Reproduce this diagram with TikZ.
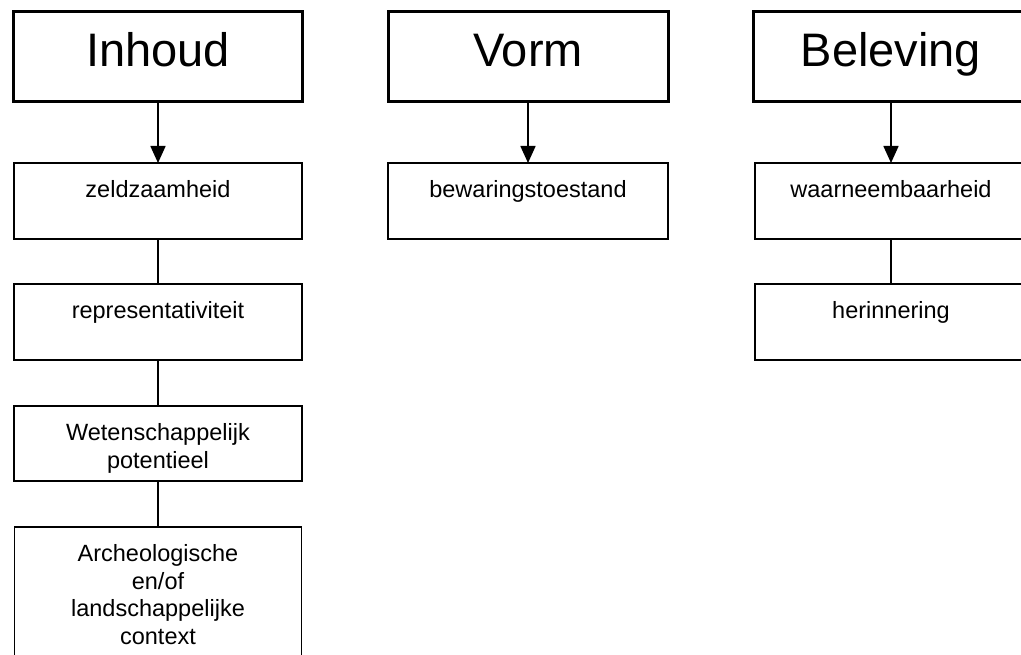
\documentclass[tikz,border=0pt]{standalone}
\usepackage{fontspec}
\setmainfont{Liberation Sans}
\usetikzlibrary{arrows.meta}
\newcommand{\smallbox}[3]{\parbox[c][#1pt][t]{#2pt}{\centering\fontsize{23.5}{27.5}\selectfont\rule{0pt}{34.5pt}#3}}
\newcommand{\titlebox}[2]{\parbox[c][90pt][t]{#1pt}{\centering\fontsize{47}{50}\selectfont\rule{0pt}{55pt}#2}}
\tikzset{
  titlenode/.style={draw=black, line width=3pt, inner sep=0pt, outer sep=0pt},
  itemnode/.style={draw=black, line width=1.3pt, inner sep=0pt, outer sep=0pt},
  arrowline/.style={line width=1.6pt, -{Triangle[width=15pt,length=17pt]}},
  plainline/.style={line width=1.3pt}
}
\begin{document}
\begin{tikzpicture}[x=1pt,y=1pt]
\useasboundingbox (0,0) rectangle (1021,-655);
\clip (0,0) rectangle (1021,-655);
% titles
\node[titlenode] (inhoud) at (158,-57) {\titlebox{289}{Inhoud}};
\node[titlenode] (vorm) at (528,-57) {\titlebox{280}{Vorm}};
\node[titlenode] (beleving) at (891,-57) {\titlebox{276}{Beleving}};
% Inhoud column
\node[itemnode] (zeld) at (158,-201) {\smallbox{76}{288}{zeldzaamheid}};
\node[itemnode] (repr) at (158,-322) {\smallbox{76}{288}{representativiteit}};
\node[itemnode] (wet) at (158,-443.5) {\smallbox{75}{288}{Wetenschappelijk\\potentieel}};
\node[itemnode] (arch) at (158,-592) {\smallbox{130}{287}{Archeologische\\en/of\\landschappelijke\\context}};
% Vorm column
\node[itemnode] (bew) at (528,-201) {\smallbox{76}{280}{bewaringstoestand}};
% Beleving column
\node[itemnode] (waar) at (891,-201) {\smallbox{76}{272}{waarneembaarheid}};
\node[itemnode] (her) at (891,-322) {\smallbox{76}{272}{herinnering}};
% connectors
\draw[arrowline] (inhoud.south) -- (zeld.north);
\draw[arrowline] (vorm.south) -- (bew.north);
\draw[arrowline] (beleving.south) -- (waar.north);
\draw[plainline] (zeld.south) -- (repr.north);
\draw[plainline] (repr.south) -- (wet.north);
\draw[plainline] (wet.south) -- (arch.north);
\draw[plainline] (waar.south) -- (her.north);
\end{tikzpicture}
\end{document}
